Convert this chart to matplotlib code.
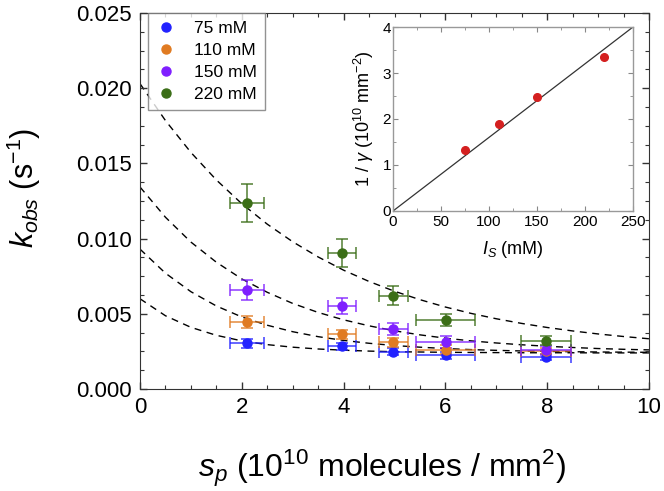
import numpy as np
import matplotlib
matplotlib.use('Agg')
import matplotlib.pyplot as plt
from matplotlib.ticker import MultipleLocator, FormatStrFormatter

plt.rcParams['font.family'] = ['Liberation Sans', 'DejaVu Sans']
plt.rcParams['mathtext.fontset'] = 'custom'
plt.rcParams['mathtext.rm'] = 'Liberation Sans'
plt.rcParams['mathtext.it'] = 'Liberation Sans:italic'
plt.rcParams['mathtext.bf'] = 'Liberation Sans:bold'

# measured points (shared surface densities)
sp = [2.10, 3.97, 4.98, 6.01, 7.98]
sp_err = [0.34, 0.27, 0.29, 0.58, 0.49]

labels = ['75 mM', '110 mM', '150 mM', '220 mM']
colors = ['#2222ff', '#e07b22', '#7f1fff', '#3b6e17']

k75 = [0.00303, 0.00283, 0.00248, 0.00224, 0.00214]
k75_err = [0.00030, 0.00022, 0.00022, 0.00022, 0.00020]
k110 = [0.00443, 0.00363, 0.00310, 0.00262, 0.00252]
k110_err = [0.00040, 0.00030, 0.00030, 0.00030, 0.00020]
k150 = [0.00657, 0.00553, 0.00400, 0.00314, 0.00256]
k150_err = [0.00066, 0.00055, 0.00040, 0.00040, 0.00030]
k220 = [0.01237, 0.00905, 0.00620, 0.00460, 0.00320]
k220_err = [0.00124, 0.00093, 0.00063, 0.00040, 0.00030]

s_fit = [0.0, 0.5, 1.0, 1.5, 2.0, 2.5, 3.0, 3.5, 4.0, 4.5, 5.0,
         5.5, 6.0, 6.5, 7.0, 7.5, 8.0, 8.5, 9.0, 9.5, 10.0]
fit75 = [0.00600, 0.00487, 0.00410, 0.00357, 0.00320, 0.00295, 0.00278, 0.00266,
         0.00258, 0.00252, 0.00248, 0.00246, 0.00244, 0.00243, 0.00242, 0.00241,
         0.00241, 0.00241, 0.00240, 0.00240, 0.00240]
fit110 = [0.00930, 0.00770, 0.00647, 0.00552, 0.00479, 0.00424, 0.00381, 0.00348,
          0.00323, 0.00304, 0.00289, 0.00278, 0.00269, 0.00262, 0.00257, 0.00253,
          0.00250, 0.00248, 0.00246, 0.00245, 0.00244]
fit150 = [0.01343, 0.01142, 0.00977, 0.00843, 0.00732, 0.00643, 0.00569, 0.00509,
          0.00460, 0.00420, 0.00387, 0.00360, 0.00338, 0.00320, 0.00306, 0.00294,
          0.00284, 0.00276, 0.00269, 0.00264, 0.00260]
fit220 = [0.02030, 0.01785, 0.01573, 0.01390, 0.01232, 0.01096, 0.00979, 0.00878,
          0.00790, 0.00715, 0.00650, 0.00594, 0.00545, 0.00503, 0.00467, 0.00436,
          0.00409, 0.00386, 0.00366, 0.00349, 0.00334]

# inset data
ionic = [75, 110, 150, 220]
inv_gamma = [1.33, 1.89, 2.48, 3.35]
line_x = [0, 250]
line_y = [0, 4]

fig = plt.figure(figsize=(6.64, 4.91), dpi=100)
ax = fig.add_axes([140/664, 1 - 389/491, 509/664, 376/491])

for f in [fit75, fit110, fit150, fit220]:
    ax.plot(s_fit, f, ls=(0, (5, 4)), c='black', lw=1.0, zorder=1)

series = [(k75, k75_err), (k110, k110_err), (k150, k150_err), (k220, k220_err)]
for (k, ke), c, lab in zip(series, colors, labels):
    ax.errorbar(sp, k, xerr=sp_err, yerr=ke, fmt='none', ecolor=c, alpha=0.75,
                elinewidth=1.3, capsize=4, capthick=1.3, zorder=2)
    ax.plot(sp, k, 'o', color=c, ms=6.5, label=lab, zorder=3)

ax.set_xlim(0, 10)
ax.set_ylim(0, 0.025)
ax.xaxis.set_major_locator(MultipleLocator(2))
ax.xaxis.set_minor_locator(MultipleLocator(0.5))
ax.yaxis.set_major_locator(MultipleLocator(0.005))
ax.yaxis.set_minor_locator(MultipleLocator(0.00125))
ax.yaxis.set_major_formatter(FormatStrFormatter('%.3f'))
ax.tick_params(which='both', direction='in', top=True, right=True, color='#333333')
ax.tick_params(which='major', length=5, width=1, labelsize=16, pad=6)
ax.tick_params(which='minor', length=3, width=0.8)
for sp_ in ax.spines.values():
    sp_.set_color('#333333')
ax.set_xlabel(r'$s_p$ (10$^{10}$ molecules / mm$^2$)', fontsize=23)
ax.set_ylabel(r'$k_{obs}$ (s$^{\mathrm{-1}}$)', fontsize=22)
ax.xaxis.set_label_coords(0.475, -0.155)
ax.yaxis.set_label_coords(-0.19, 0.535)

leg = ax.legend(loc='upper left', bbox_to_anchor=(8/509, 1.0), borderaxespad=0,
                fontsize=12.5, frameon=True, fancybox=False, handletextpad=1.0,
                handlelength=1.2, borderpad=0.45, labelspacing=0.4)
leg.get_frame().set_edgecolor('#777777')
leg.get_frame().set_linewidth(1.0)

# inset
ins = fig.add_axes([393/664, 1 - 211/491, 240/664, 184/491])
ins.plot(line_x, line_y, c='#333333', lw=0.9)
ins.plot(ionic, inv_gamma, 'o', color='#d42020', ms=5.5)
ins.set_xlim(0, 250)
ins.set_ylim(0, 4)
ins.xaxis.set_major_locator(MultipleLocator(50))
ins.xaxis.set_minor_locator(MultipleLocator(25))
ins.yaxis.set_major_locator(MultipleLocator(1))
ins.yaxis.set_minor_locator(MultipleLocator(0.5))
ins.tick_params(which='both', direction='in', top=True, right=True, color='#888888')
ins.tick_params(which='major', length=3.5, width=0.8, labelsize=11)
ins.tick_params(which='minor', length=2, width=0.6)
ins.tick_params(axis='y', pad=1.5)
ins.tick_params(axis='x', pad=3)
for sp_ in ins.spines.values():
    sp_.set_color('#999999')
    sp_.set_linewidth(1.0)
ins.set_xlabel(r'$I_S$ (mM)', fontsize=13, labelpad=7)
ins.set_ylabel(r'1 / $\gamma$ (10$^{10}$ mm$^{-2}$)', fontsize=13)
ins.yaxis.set_label_coords(-0.07, 0.5)

fig.savefig('out.png', dpi=100)
